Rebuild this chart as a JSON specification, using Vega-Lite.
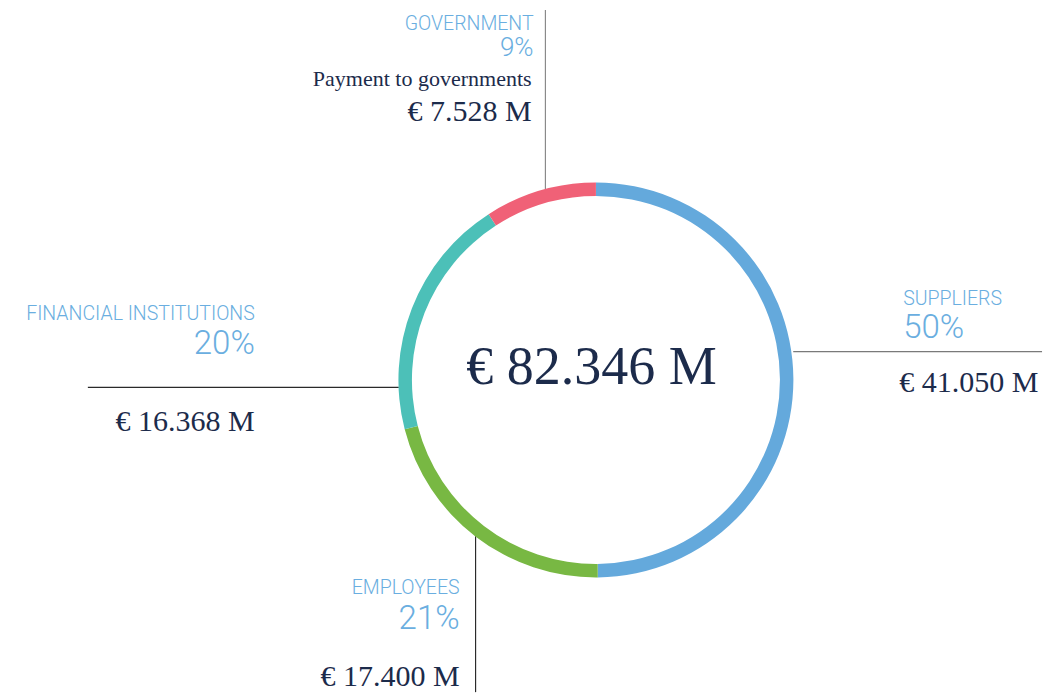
{
  "$schema": "https://vega.github.io/schema/vega-lite/v6.json",
  "width": 1043,
  "height": 693,
  "autosize": {"type": "fit", "contains": "padding"},
  "padding": 0,
  "background": "white",
  "config": {"view": {"stroke": null}},
  "datasets": {
    "ring": [
      {"category": "Suppliers", "value": 41.050, "order": 1},
      {"category": "Employees", "value": 17.400, "order": 2},
      {"category": "Financial institutions", "value": 16.368, "order": 3},
      {"category": "Government", "value": 7.528, "order": 4}
    ],
    "labels": [
      {"category": "Government", "kind": "name", "text": "GOVERNMENT", "x": -31.6, "y": 177.5},
      {"category": "Government", "kind": "pct", "text": "9%", "x": -31.6, "y": 164.3},
      {"category": "Government", "kind": "note", "text": "Payment to governments", "x": -32.6, "y": 149.1},
      {"category": "Government", "kind": "value", "text": "€ 7.528 M", "x": -32.6, "y": 131.4},
      {"category": "Suppliers", "kind": "name", "text": "SUPPLIERS", "x": 155.7, "y": 38.2},
      {"category": "Suppliers", "kind": "pct", "text": "50%", "x": 155.7, "y": 21.5},
      {"category": "Suppliers", "kind": "value", "text": "€ 41.050 M", "x": 153.7, "y": -6.3},
      {"category": "Financial institutions", "kind": "name", "text": "FINANCIAL INSTITUTIONS", "x": -172.9, "y": 30.6},
      {"category": "Financial institutions", "kind": "pct", "text": "20%", "x": -172.9, "y": 13.4},
      {"category": "Financial institutions", "kind": "value", "text": "€ 16.368 M", "x": -172.9, "y": -26.1},
      {"category": "Employees", "kind": "name", "text": "EMPLOYEES", "x": -69.1, "y": -108.6},
      {"category": "Employees", "kind": "pct", "text": "21%", "x": -69.1, "y": -126.3},
      {"category": "Employees", "kind": "value", "text": "€ 17.400 M", "x": -69.1, "y": -155.2},
      {"category": "Total", "kind": "total", "text": "€ 82.346 M", "x": -2.3, "y": -1.8}
    ],
    "lines": [
      {"category": "Government", "x": -25.6, "y": 96.7, "x2": -25.6, "y2": 187.6},
      {"category": "Suppliers", "x": 100, "y": 14.4, "x2": 226.1, "y2": 14.4},
      {"category": "Financial institutions", "x": -257.5, "y": -3.8, "x2": -99.9, "y2": -3.8},
      {"category": "Employees", "x": -61.0, "y": -79.2, "x2": -61.0, "y2": -158.3}
    ]
  },
  "encoding": {},
  "layer": [
    {
      "data": {"name": "lines"},
      "mark": {"type": "rule", "strokeWidth": 1.2},
      "encoding": {
        "x": {"field": "x", "type": "quantitative", "scale": {"domain": [-302.03, 226.08], "nice": false, "zero": false}, "axis": null},
        "y": {"field": "y", "type": "quantitative", "scale": {"domain": [-158.23, 192.66], "nice": false, "zero": false}, "axis": null},
        "x2": {"field": "x2"},
        "y2": {"field": "y2"},
        "color": {"field": "category", "type": "nominal", "legend": null,
          "scale": {"domain": ["Government", "Suppliers", "Financial institutions", "Employees"], "range": ["#8a8a8a", "#7a7a7a", "#2a2a2a", "#2a2a2a"]}}
      }
    },
    {
      "data": {"name": "ring"},
      "mark": {"type": "arc", "outerRadius": 197.5, "innerRadius": 184},
      "encoding": {
        "x": {"datum": 0, "type": "quantitative"},
        "y": {"datum": 0, "type": "quantitative"},
        "theta": {"field": "value", "type": "quantitative", "stack": true},
        "order": {"field": "order", "type": "quantitative"},
        "fill": {"field": "category", "type": "nominal", "legend": null,
          "scale": {"domain": ["Suppliers", "Employees", "Financial institutions", "Government"], "range": ["#64a9dc", "#78b843", "#4cc0b8", "#f06177"]}}
      }
    },
    {
      "data": {"name": "labels"},
      "transform": [{"filter": "datum.kind == 'name' && datum.category != 'Suppliers'"}],
      "mark": {"type": "text", "align": "right", "baseline": "alphabetic", "font": "Roboto", "fontWeight": 300, "fontSize": 19.5, "color": "#6aaee0"},
      "encoding": {"x": {"field": "x", "type": "quantitative"}, "y": {"field": "y", "type": "quantitative"}, "text": {"field": "text"}}
    },
    {
      "data": {"name": "labels"},
      "transform": [{"filter": "datum.kind == 'name' && datum.category == 'Suppliers'"}],
      "mark": {"type": "text", "align": "left", "baseline": "alphabetic", "font": "Roboto", "fontWeight": 300, "fontSize": 19.5, "color": "#6aaee0"},
      "encoding": {"x": {"field": "x", "type": "quantitative"}, "y": {"field": "y", "type": "quantitative"}, "text": {"field": "text"}}
    },
    {
      "data": {"name": "labels"},
      "transform": [{"filter": "datum.kind == 'pct' && datum.category != 'Suppliers' && datum.category != 'Government'"}],
      "mark": {"type": "text", "align": "right", "baseline": "alphabetic", "font": "Roboto", "fontWeight": 300, "fontSize": 33, "color": "#6aaee0"},
      "encoding": {"x": {"field": "x", "type": "quantitative"}, "y": {"field": "y", "type": "quantitative"}, "text": {"field": "text"}}
    },
    {
      "data": {"name": "labels"},
      "transform": [{"filter": "datum.kind == 'pct' && datum.category == 'Government'"}],
      "mark": {"type": "text", "align": "right", "baseline": "alphabetic", "font": "Roboto", "fontWeight": 300, "fontSize": 26, "color": "#6aaee0"},
      "encoding": {"x": {"field": "x", "type": "quantitative"}, "y": {"field": "y", "type": "quantitative"}, "text": {"field": "text"}}
    },
    {
      "data": {"name": "labels"},
      "transform": [{"filter": "datum.kind == 'pct' && datum.category == 'Suppliers'"}],
      "mark": {"type": "text", "align": "left", "baseline": "alphabetic", "font": "Roboto", "fontWeight": 300, "fontSize": 33, "color": "#6aaee0"},
      "encoding": {"x": {"field": "x", "type": "quantitative"}, "y": {"field": "y", "type": "quantitative"}, "text": {"field": "text"}}
    },
    {
      "data": {"name": "labels"},
      "transform": [{"filter": "datum.kind == 'value' && datum.category != 'Suppliers'"}],
      "mark": {"type": "text", "align": "right", "baseline": "alphabetic", "font": "Liberation Serif", "fontSize": 30, "color": "#1c2b4b"},
      "encoding": {"x": {"field": "x", "type": "quantitative"}, "y": {"field": "y", "type": "quantitative"}, "text": {"field": "text"}}
    },
    {
      "data": {"name": "labels"},
      "transform": [{"filter": "datum.kind == 'value' && datum.category == 'Suppliers'"}],
      "mark": {"type": "text", "align": "left", "baseline": "alphabetic", "font": "Liberation Serif", "fontSize": 30, "color": "#1c2b4b"},
      "encoding": {"x": {"field": "x", "type": "quantitative"}, "y": {"field": "y", "type": "quantitative"}, "text": {"field": "text"}}
    },
    {
      "data": {"name": "labels"},
      "transform": [{"filter": "datum.kind == 'note'"}],
      "mark": {"type": "text", "align": "right", "baseline": "alphabetic", "font": "Liberation Serif", "fontSize": 22, "color": "#1c2b4b"},
      "encoding": {"x": {"field": "x", "type": "quantitative"}, "y": {"field": "y", "type": "quantitative"}, "text": {"field": "text"}}
    },
    {
      "data": {"name": "labels"},
      "transform": [{"filter": "datum.kind == 'total'"}],
      "mark": {"type": "text", "align": "center", "baseline": "alphabetic", "font": "Liberation Serif", "fontSize": 54, "color": "#1c2b4b"},
      "encoding": {"x": {"field": "x", "type": "quantitative"}, "y": {"field": "y", "type": "quantitative"}, "text": {"field": "text"}}
    }
  ]
}
